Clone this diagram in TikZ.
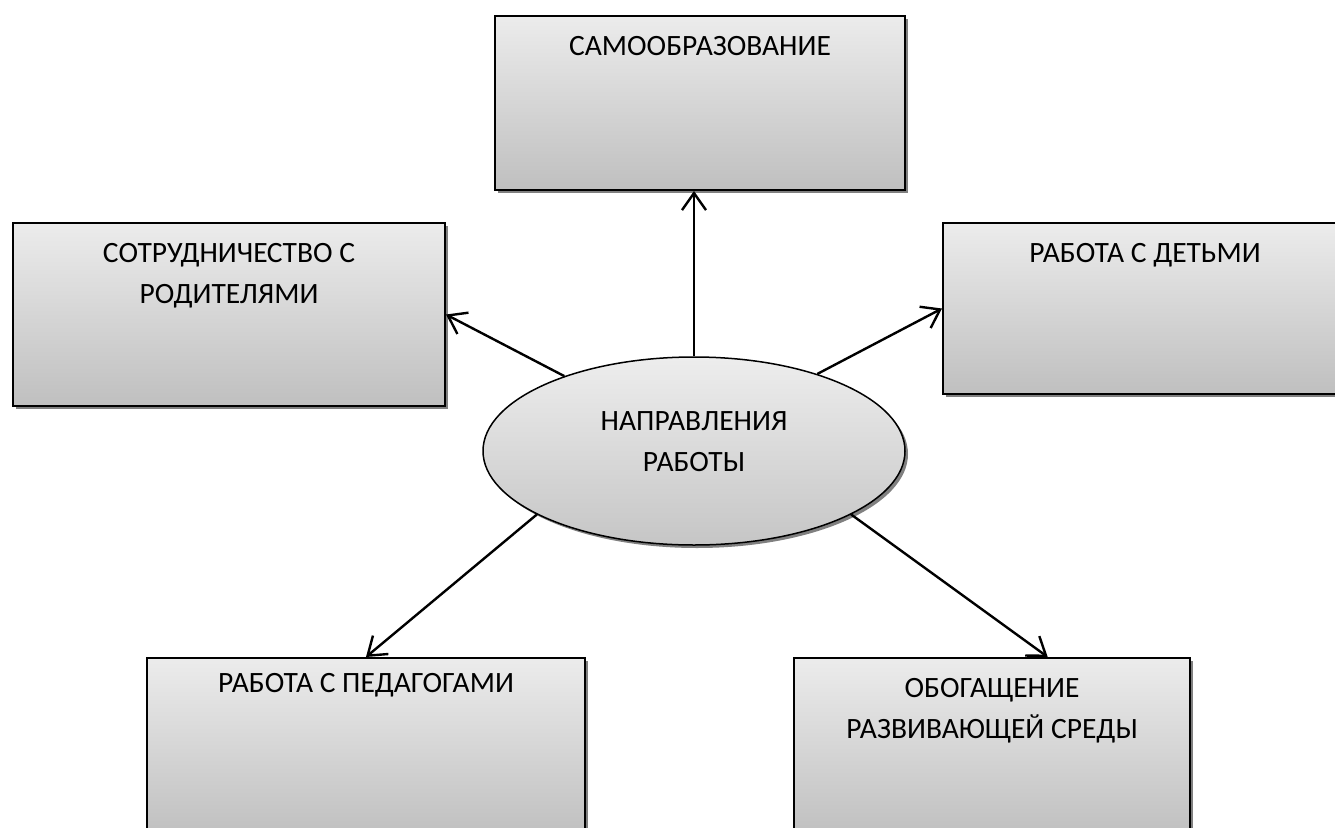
\documentclass[tikz,border=0pt]{standalone}
\usepackage{fontspec}
\setmainfont{Carlito}
\usetikzlibrary{positioning, arrows.meta, shapes.geometric, calc, shadows}

\begin{document}
\begin{tikzpicture}[
  x=1pt, y=-1pt,
  box/.style={draw=black, line width=2pt, top color=gray!15, bottom color=gray!50,
              anchor=north west, inner sep=0pt,
              drop shadow={shadow xshift=3pt, shadow yshift=-3pt, fill=black!50, opacity=1}},
  hub/.style={ellipse, draw=black, line width=1.5pt, top color=gray!14, bottom color=gray!45,
              minimum width=422pt, minimum height=188pt, inner sep=0pt,
              drop shadow={shadow xshift=3pt, shadow yshift=-3pt, fill=black!50, opacity=1}},
  lbl/.style={inner sep=0pt, align=center, font=\fontsize{29.5pt}{41pt}\selectfont},
  arr/.style={-{Straight Barb[length=17pt, width=24pt]}, line width=2.4pt},
]

\clip (0,0) rectangle (1335,827);

% Nodes
\node[box, minimum width=410pt, minimum height=174pt] (samo) at (494,15) {};
\node[box, minimum width=432pt, minimum height=183pt] (rod) at (12,222) {};
\node[box, minimum width=404pt, minimum height=171pt] (deti) at (942,222) {};
\node[box, minimum width=438pt, minimum height=180pt] (ped) at (146,657) {};
\node[box, minimum width=396pt, minimum height=180pt] (sreda) at (793,657) {};
\node[hub] (c) at (694,451) {};

% Texts
\node[lbl, below=21pt of samo.north] (samo-t) {САМООБРАЗОВАНИЕ};
\node[lbl, below=21pt of rod.north] (rod-t) {СОТРУДНИЧЕСТВО С\\РОДИТЕЛЯМИ};
\node[lbl, below=21pt of deti.north] (deti-t) {РАБОТА С ДЕТЬМИ};
\node[lbl, below=16pt of ped.north] (ped-t) {РАБОТА С ПЕДАГОГАМИ};
\node[lbl, below=21pt of sreda.north] (sreda-t) {ОБОГАЩЕНИЕ\\РАЗВИВАЮЩЕЙ СРЕДЫ};
\node[lbl] (c-t) at ([yshift=9pt]c.center) {НАПРАВЛЕНИЯ\\РАБОТЫ};

% Arrows
\draw[arr] (c.north) -- (c.north |- samo.south);
\draw[arr] (c.150) -- (rod.east);
\draw[arr] (c.32) -- (deti.west);
\draw[arr] (c.202) -- (ped.north);
\draw[arr] (c.-22) -- ($(sreda.north west)!0.64!(sreda.north east)$);

\end{tikzpicture}
\end{document}
